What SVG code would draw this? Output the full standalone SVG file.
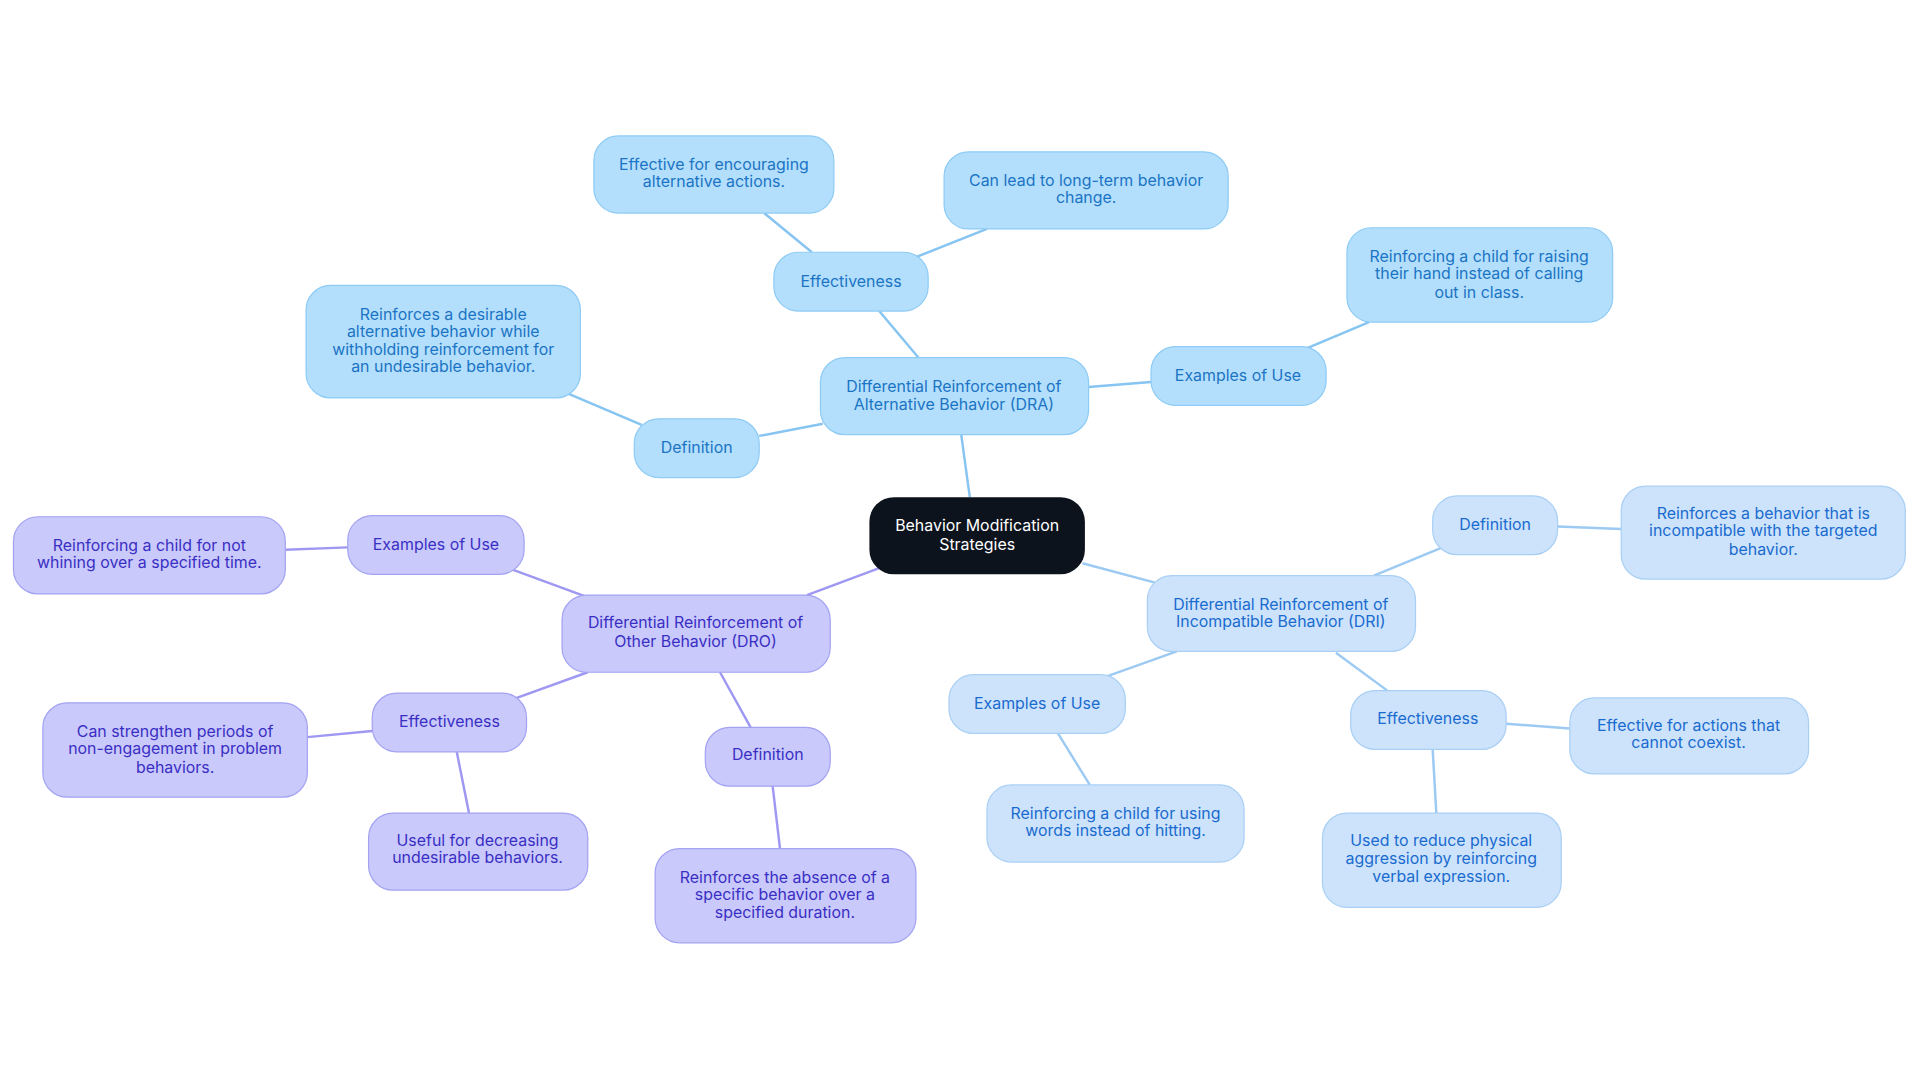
<svg xmlns="http://www.w3.org/2000/svg" width="1920" height="1083" viewBox="0 0 1920 1083">
<style>
text{font-family:Inter,"Noto Sans","Liberation Sans",sans-serif;font-size:13px;text-anchor:middle}
.a rect{fill:#b3dffc;stroke:#8ecbf5;stroke-width:1}.a text{fill:#1b74c4}
.o rect{fill:#c9c9fb;stroke:#a3a3f2;stroke-width:1}.o text{fill:#3a2fc4}
.i rect{fill:#cce3fb;stroke:#a9cff5;stroke-width:1}.i text{fill:#1a6bcf}
.c rect{fill:#0d131d}.c text{fill:#fff}
#edges line{stroke-width:2}
.ea{stroke:#86c4f1}.eo{stroke:#9e98f2}.ei{stroke:#9ccaf3}
</style>
<rect width="1920" height="1083" fill="#fff"/>
<g transform="scale(1.2245)">
<g id="edges">
<line class="ea" x1="792" y1="406" x2="785" y2="355"/>
<line class="ea" x1="750" y1="292" x2="718" y2="254"/>
<line class="ea" x1="663" y1="206" x2="624" y2="174"/>
<line class="ea" x1="748" y1="210" x2="806" y2="187"/>
<line class="ea" x1="672" y1="346" x2="620" y2="356"/>
<line class="ea" x1="524" y1="347" x2="463" y2="321"/>
<line class="ea" x1="889" y1="316" x2="940" y2="312"/>
<line class="ea" x1="1068" y1="284" x2="1118" y2="263"/>
<line class="eo" x1="718" y1="464" x2="659" y2="486"/>
<line class="eo" x1="478" y1="487" x2="418" y2="465"/>
<line class="eo" x1="284" y1="447" x2="233" y2="449"/>
<line class="eo" x1="480" y1="549" x2="422" y2="570"/>
<line class="eo" x1="304" y1="597" x2="251" y2="602"/>
<line class="eo" x1="373" y1="614" x2="383" y2="664"/>
<line class="eo" x1="588" y1="549" x2="613" y2="594"/>
<line class="eo" x1="631" y1="642" x2="637" y2="693"/>
<line class="ei" x1="884" y1="460" x2="944" y2="476"/>
<line class="ei" x1="1122" y1="470" x2="1178" y2="447"/>
<line class="ei" x1="1272" y1="430" x2="1324" y2="432"/>
<line class="ei" x1="961" y1="532" x2="905" y2="552"/>
<line class="ei" x1="864" y1="599" x2="890" y2="641"/>
<line class="ei" x1="1091" y1="533" x2="1133" y2="564"/>
<line class="ei" x1="1230" y1="591" x2="1282" y2="595"/>
<line class="ei" x1="1170" y1="612" x2="1173" y2="664"/>
</g>
<g id="center" class="c"><rect x="710" y="406" width="176" height="63" rx="20"/><text x="798" y="434">Behavior Modification</text><text x="798" y="449">Strategies</text></g>
<g id="dra" class="a"><rect x="670" y="292" width="219" height="63" rx="20"/><text x="779" y="320">Differential Reinforcement of</text><text x="779" y="335">Alternative Behavior (DRA)</text></g>
<g id="dra-eff" class="a"><rect x="632" y="206" width="126" height="48" rx="20"/><text x="695" y="234">Effectiveness</text></g>
<g id="dra-eff1" class="a"><rect x="485" y="111" width="196" height="63" rx="20"/><text x="583" y="139">Effective for encouraging</text><text x="583" y="153">alternative actions.</text></g>
<g id="dra-eff2" class="a"><rect x="771" y="124" width="232" height="63" rx="20"/><text x="887" y="152">Can lead to long-term behavior</text><text x="887" y="166">change.</text></g>
<g id="dra-def" class="a"><rect x="518" y="342" width="102" height="48" rx="20"/><text x="569" y="370">Definition</text></g>
<g id="dra-def1" class="a"><rect x="250" y="233" width="224" height="92" rx="20"/><text x="362" y="261">Reinforces a desirable</text><text x="362" y="275">alternative behavior while</text><text x="362" y="290">withholding reinforcement for</text><text x="362" y="304">an undesirable behavior.</text></g>
<g id="dra-ex" class="a"><rect x="940" y="283" width="143" height="48" rx="20"/><text x="1011" y="311">Examples of Use</text></g>
<g id="dra-ex1" class="a"><rect x="1100" y="186" width="217" height="77" rx="20"/><text x="1208" y="214">Reinforcing a child for raising</text><text x="1208" y="228">their hand instead of calling</text><text x="1208" y="243">out in class.</text></g>
<g id="dro" class="o"><rect x="459" y="486" width="219" height="63" rx="20"/><text x="568" y="513">Differential Reinforcement of</text><text x="568" y="528">Other Behavior (DRO)</text></g>
<g id="dro-ex" class="o"><rect x="284" y="421" width="144" height="48" rx="20"/><text x="356" y="449">Examples of Use</text></g>
<g id="dro-ex1" class="o"><rect x="11" y="422" width="222" height="63" rx="20"/><text x="122" y="450">Reinforcing a child for not</text><text x="122" y="464">whining over a specified time.</text></g>
<g id="dro-eff" class="o"><rect x="304" y="566" width="126" height="48" rx="20"/><text x="367" y="594">Effectiveness</text></g>
<g id="dro-eff1" class="o"><rect x="35" y="574" width="216" height="77" rx="20"/><text x="143" y="602">Can strengthen periods of</text><text x="143" y="616">non-engagement in problem</text><text x="143" y="631">behaviors.</text></g>
<g id="dro-eff2" class="o"><rect x="301" y="664" width="179" height="63" rx="20"/><text x="390" y="691">Useful for decreasing</text><text x="390" y="705">undesirable behaviors.</text></g>
<g id="dro-def" class="o"><rect x="576" y="594" width="102" height="48" rx="20"/><text x="627" y="621">Definition</text></g>
<g id="dro-def1" class="o"><rect x="535" y="693" width="213" height="77" rx="20"/><text x="641" y="721">Reinforces the absence of a</text><text x="641" y="735">specific behavior over a</text><text x="641" y="750">specified duration.</text></g>
<g id="dri" class="i"><rect x="937" y="470" width="219" height="62" rx="20"/><text x="1046" y="498">Differential Reinforcement of</text><text x="1046" y="512">Incompatible Behavior (DRI)</text></g>
<g id="dri-def" class="i"><rect x="1170" y="405" width="102" height="48" rx="20"/><text x="1221" y="433">Definition</text></g>
<g id="dri-def1" class="i"><rect x="1324" y="397" width="232" height="76" rx="20"/><text x="1440" y="424">Reinforces a behavior that is</text><text x="1440" y="438">incompatible with the targeted</text><text x="1440" y="453">behavior.</text></g>
<g id="dri-ex" class="i"><rect x="775" y="551" width="144" height="48" rx="20"/><text x="847" y="579">Examples of Use</text></g>
<g id="dri-ex1" class="i"><rect x="806" y="641" width="210" height="63" rx="20"/><text x="911" y="669">Reinforcing a child for using</text><text x="911" y="683">words instead of hitting.</text></g>
<g id="dri-eff" class="i"><rect x="1103" y="564" width="127" height="48" rx="20"/><text x="1166" y="591">Effectiveness</text></g>
<g id="dri-eff1" class="i"><rect x="1282" y="570" width="195" height="62" rx="20"/><text x="1379" y="597">Effective for actions that</text><text x="1379" y="611">cannot coexist.</text></g>
<g id="dri-eff2" class="i"><rect x="1080" y="664" width="195" height="77" rx="20"/><text x="1177" y="691">Used to reduce physical</text><text x="1177" y="706">aggression by reinforcing</text><text x="1177" y="720">verbal expression.</text></g>
</g>
</svg>
